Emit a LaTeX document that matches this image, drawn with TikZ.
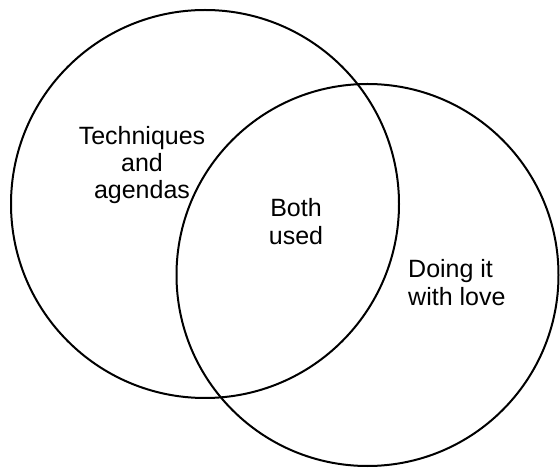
\documentclass[tikz,border=0pt]{standalone}
\usepackage{fontspec}
\setmainfont{Liberation Sans}
\begin{document}
\begin{tikzpicture}[x=1pt,y=-1pt,
  ring/.style={draw=black,line width=2pt},
  lbl/.style={inner sep=0pt,anchor=base,font=\fontsize{25}{28}\selectfont},
  lbll/.style={inner sep=0pt,anchor=base west,font=\fontsize{25}{28}\selectfont}]
\useasboundingbox[fill=white] (0,0) rectangle (560,470);
\draw[ring] (205,204) circle[radius=194];
\draw[ring] (367.5,275) circle[radius=191];
\node[lbl] (ta1) at (142,145) {Techniques};
\node[lbl] (ta2) at (142,172) {and};
\node[lbl] (ta3) at (142,199) {agendas};
\node[lbl] (bu1) at (296,217) {Both};
\node[lbl] (bu2) at (296,245) {used};
\node[lbll] (dl1) at (408,278) {Doing it};
\node[lbll] (dl2) at (408,306) {with love};
\end{tikzpicture}
\end{document}
